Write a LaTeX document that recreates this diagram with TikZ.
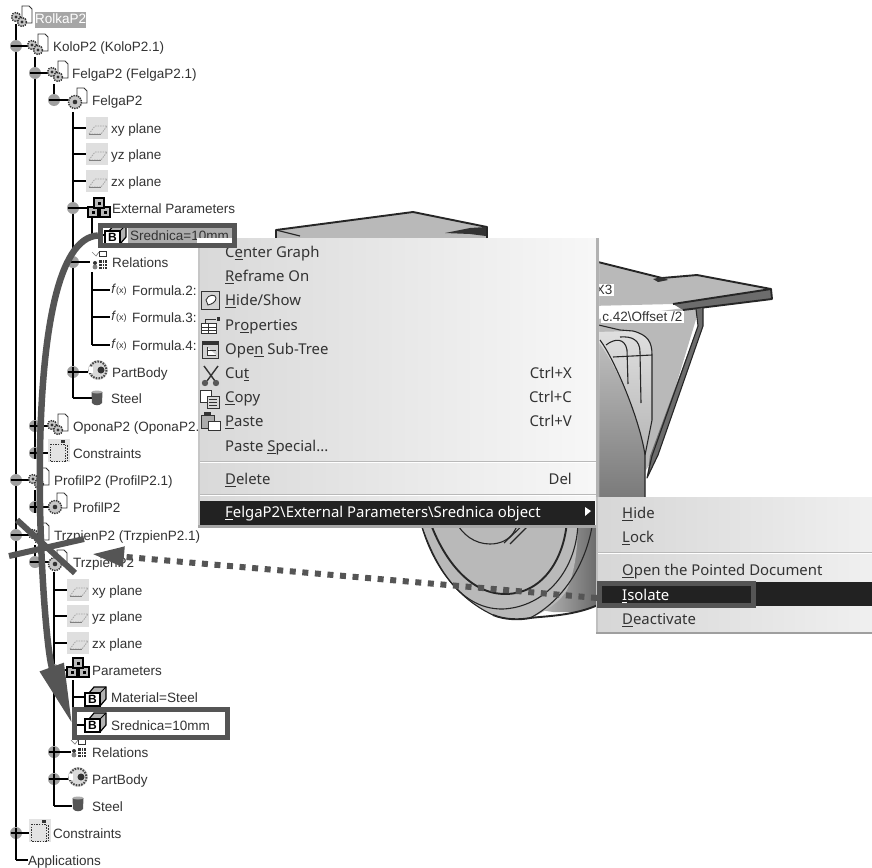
\documentclass[tikz,border=0pt]{standalone}
\usepackage{fontspec}
\setmainfont{Liberation Sans}
\newfontfamily\menufont{Noto Sans}
\usetikzlibrary{arrows.meta,shadings}
\definecolor{ink}{HTML}{333333}
\definecolor{annot}{HTML}{555555}
\definecolor{barcol}{HTML}{222222}
\definecolor{platecol}{HTML}{B9B9B9}
\newcommand{\ulc}[1]{\underline{#1}}
\newcommand{\TreeRow}[6]{%
  \coordinate (#1-t) at (#2,#4);
  \coordinate (#1-i) at (#3,#4);
  \draw[treeline] (#1-t) -- (#1-i);
  \node[lbl] (#1) at (#5,#4) {#6};}
\newcommand{\MI}[3]{\node[mitem] (#1) at (225,#2) {#3};}
\newcommand{\SI}[3]{\node[mitem] (#1) at (622,#2) {#3};}
\newcommand{\SK}[3]{\node[mkey] (#1) at (572,#2) {#3};}
\tikzset{
  treeline/.style={line width=1.8,draw=black},
  lbl/.style={anchor=west,inner sep=0,yshift=-1.8,text height=10,text depth=3,text=ink,font=\fontsize{13.5}{15}\selectfont},
  mitem/.style={anchor=west,inner sep=0,yshift=-2,text height=11,text depth=4,text=ink,font=\menufont\fontsize{14.9}{16}\selectfont},
  mkey/.style={mitem,anchor=east},
  wl/.style={line width=1.1,draw=black!85},
  wt/.style={line width=1.9,draw=black!85},
  pics/expm/.style={code={\fill[gray!75] (0,0) circle (6);\fill[black] (-5.5,-1.4) rectangle (5.5,1.4);}},
  pics/expp/.style={code={\fill[gray!75] (0,0) circle (6);\fill[black] (-5.5,-1.4) rectangle (5.5,1.4);\fill[black] (-1.4,-5.5) rectangle (1.4,5.5);}},
  pics/gearm/.style={code={\fill[gray!45] (0,0) circle (#1);\draw[line width=1.4,draw=ink,dash pattern=on 1.4 off 1] (0,0) circle (#1);\fill[ink] (0,0) circle (#1*0.35);}},
  pics/asmi/.style={code={\draw[line width=.9,draw=ink,fill=white] (0,-12) -- (7,-12) -- (10,-9) -- (10,5) -- (0,5) -- cycle;
     \pic at (-6,-1) {gearm=4.5};\pic at (0,4) {gearm=4.5};}},
  pics/parti/.style={code={\draw[line width=.9,draw=ink,fill=white] (0,-12) -- (7,-12) -- (10,-9) -- (10,3) -- (0,3) -- cycle;
     \pic at (-2,2) {gearm=6.5};}},
  pics/planei/.style={code={\fill[gray!25] (-11,-11) rectangle (11,11);
     \draw[line width=.8,draw=gray!70,dash pattern=on 1.5 off 1] (-8,6) -- (-2,-2) -- (10,-2) -- (4,6) -- cycle;\draw[line width=1,draw=gray] (-8,6) -- (4,6);}},
  pics/trii/.style={code={\foreach \a/\b in {-6/4,6/4,0/-5}{\draw[line width=1.2,draw=black,fill=gray!55] (\a-5,\b-5) rectangle (\a+5,\b+5);\fill[black] (\a-1.5,\b-1.5) rectangle (\a+1.5,\b+1.5);}}},
  pics/bcube/.style={code={\draw[line width=1.2,draw=black,fill=gray!60] (-6,-4) -- (-1,-10) -- (11,-10) -- (11,2) -- (5,9) -- (-6,9) -- cycle;
     \draw[line width=1.2,draw=black,fill=white] (-10,-4) rectangle (5,9);\draw[line width=1,draw=black] (5,-4) -- (11,-10);
     \node[inner sep=0,font=\bfseries\fontsize{12}{12}\selectfont] (bl) at (-2.5,2.5) {B};}},
  pics/reli/.style={code={\draw[line width=.7,draw=gray] (-7,-10) -- (-3,-6) -- (0,-10);\draw[line width=.8,draw=ink,fill=white] (0,-11) rectangle (7,-6);
     \fill[ink] (-4,1) circle (2);\fill[gray] (-4,5) circle (2.4);
     \fill[ink] (0,-2) rectangle (8,7);\draw[white,line width=.4] (0,1) -- (8,1) (0,4) -- (8,4) (3,-2) -- (3,7) (5.5,-2) -- (5.5,7);}},
  pics/bodyi/.style={code={\fill[gray!30] (0,0) circle (10);\draw[line width=2,draw=ink!90,dash pattern=on 1.6 off 1.2] (0,0) circle (8.5);
     \fill[ink] (3,0) circle (3.5);\fill[white] (-9,-3) rectangle (-5,3);}},
  pics/cani/.style={code={\fill[annot] (-5.5,-6) -- (5.5,-6) -- (5,5) .. controls (3,8) and (-3,8) .. (-5,5) -- cycle;\fill[gray!65] (0,-6) ellipse (5.5 and 1.5);}},
  pics/consi/.style={code={\fill[gray!22] (-11,-12) rectangle (11,11);\draw[line width=.8,draw=ink,dash pattern=on 1.4 off 1.2] (-9,-7) rectangle (6,10);\draw[line width=.9,draw=ink,dash pattern=on 2 off 1] (8.5,-6) -- (8.5,10);\fill[ink] (2,-11) rectangle (6,-8);}},
}
\begin{document}
\begin{tikzpicture}[x=1pt,y=-1pt]
\useasboundingbox (0,0) rectangle (872,867);
\fill[white] (0,0) rectangle (872,867);

%% ---------- 3D part, behind everything ----------
\fill[platecol] (276,230) -- (413,212) -- (487,227) -- (487,245) -- (276,245) -- cycle;
\draw[wt,line join=round] (276,238) -- (276,230) -- (413,212) -- (487,227) -- (487,240);
\draw[wl] (276,230) -- (300,236);
\fill[black!80] (445,233) -- (470,228) -- (486,227) -- (486,236) -- (470,234) -- cycle;
% bracket web
\fill[platecol] (590,320) -- (700,306) -- (655,455) -- (640,480) -- (590,480) -- cycle;
% plate
\fill[platecol] (590,260) -- (662,278) -- (697,275) -- (771,289) -- (673,304) -- (590,306) -- cycle;
\fill[gray!85!black] (673,304) -- (771,289) -- (772,299) -- (683,310) -- cycle;
\draw[wt,line join=round] (590,260) -- (662,278) -- (697,275) -- (771,289) -- (772,299) -- (683,310);
\draw[wt] (673,304) -- (771,289);
\fill[black!80] (653,279) -- (662,277) -- (668,280) -- (658,282) -- cycle;
% rail
\fill[gray!85!black] (696,309) -- (703,308) -- (703,326) -- (658,455) -- (647,478) -- (650,456) -- (698,326) -- cycle;
\draw[wl,line join=round] (696,309) -- (698,326) -- (652,456) -- (647,478) -- (658,455) -- (703,326) -- (703,308);
% hub and tread
\shade[top color=gray!25,bottom color=gray!70] (595,332) -- (633,331) .. controls (648,335) and (652,342) .. (652,355) -- (652,420) -- (645,455) -- (645,500) -- (595,500) -- cycle;
\shade[top color=gray!50,bottom color=gray!95!black] (595,338) .. controls (615,360) and (640,420) .. (645,455) -- (645,500) -- (595,500) -- cycle;
\draw[wl] (590,323) -- (620,330) -- (633,331) .. controls (648,335) and (652,342) .. (652,355) -- (652,420) -- (645,455) -- (645,500);
\draw[wl] (600,340) .. controls (615,360) and (640,420) .. (645,455);
\draw[wl] (613,357) -- (652,355);
\draw[wl] (606,345) .. controls (615,338) and (625,338) .. (627,350) -- (628,384);
\draw[wl] (620,337) .. controls (632,336) and (640,340) .. (640,352) -- (641,403);
% wheel bottom
\fill[platecol] (415,515) -- (422,527) .. controls (430,555) and (450,595) .. (493,615) .. controls (505,620) and (520,620) .. (530,618) .. controls (555,608) and (585,580) .. (600,515) -- cycle;
\shade[left color=platecol,right color=gray!80!black] (560,515) -- (540,610) -- (553,612) -- (577,612) -- (600,605) -- (600,515) -- cycle;
\fill[platecol] (415,515) -- (422,527) .. controls (430,555) and (450,595) .. (493,615) .. controls (505,620) and (520,620) .. (530,618) .. controls (545,612) and (560,602) .. (567,590) .. controls (575,570) and (578,550) .. (578,515) -- cycle;
\draw[wt] (493,615) .. controls (505,620) and (520,620) .. (530,618) .. controls (545,616) and (575,616) .. (600,604);
\draw[wl] (422,527) .. controls (430,555) and (450,595) .. (493,615);
\draw[wl] (422,527) .. controls (432,555) and (455,610) .. (503,609) .. controls (545,607) and (578,570) .. (578,520);
\draw[wt] (432,527) .. controls (445,560) and (470,594) .. (505,594) .. controls (545,594) and (565,555) .. (567,520);
\draw[wl] (455,520) .. controls (462,535) and (475,544) .. (490,544) .. controls (500,544) and (510,540) .. (515,530) -- (520,520);
\draw[wl] (504,543) -- (528,520);\draw[wl] (510,544) -- (532,522);
\draw[wl] (593,520) .. controls (588,560) and (565,600) .. (530,618);

%% ---------- tree lines and labels ----------
\coordinate (rolka-t) at (16,24);
\TreeRow{kolo}{16}{30}{46}{53}{KoloP2 (KoloP2.1)}
\TreeRow{felgaA}{35}{50}{73}{72}{FelgaP2 (FelgaP2.1)}
\TreeRow{felgaB}{54}{68}{100}{92}{FelgaP2}
\TreeRow{xyA}{73}{86}{128}{111}{xy plane}
\TreeRow{yzA}{73}{86}{154}{111}{yz plane}
\TreeRow{zxA}{73}{86}{181}{111}{zx plane}
\TreeRow{extp}{73}{90}{208}{112}{External Parameters}
\fill[gray!65] (128,228) rectangle (233,243);
\TreeRow{sredA}{92}{105}{235}{130}{Srednica=10mm}
\TreeRow{relA}{73}{90}{262}{112}{Relations}
\TreeRow{fA}{92}{110}{290}{132}{Formula.2:}
\TreeRow{fB}{92}{110}{317}{132}{Formula.3:}
\TreeRow{fC}{92}{110}{345}{132}{Formula.4:}
\TreeRow{pbA}{73}{88}{372}{112}{PartBody}
\TreeRow{stA}{73}{92}{398}{111}{Steel}
\TreeRow{opona}{35}{50}{426}{73}{OponaP2 (OponaP2.1)}
\TreeRow{consA}{35}{50}{453}{73}{Constraints}
\TreeRow{profA}{16}{30}{480}{54}{ProfilP2 (ProfilP2.1)}
\TreeRow{profB}{35}{50}{507}{73}{ProfilP2}
\TreeRow{trzA}{16}{30}{535}{54}{TrzpienP2 (TrzpienP2.1)}
\TreeRow{trzB}{35}{50}{562}{73}{TrzpienP2}
\TreeRow{xyB}{54}{67}{590}{92}{xy plane}
\TreeRow{yzB}{54}{67}{616}{92}{yz plane}
\TreeRow{zxB}{54}{67}{643}{92}{zx plane}
\TreeRow{parB}{54}{67}{670}{92}{Parameters}
\TreeRow{mat}{73}{86}{697}{111}{Material=Steel}
\TreeRow{sredB}{73}{86}{725}{111}{Srednica=10mm}
\TreeRow{relB}{54}{71}{752}{92}{Relations}
\TreeRow{pbB}{54}{71}{779}{92}{PartBody}
\TreeRow{stB}{54}{72}{806}{92}{Steel}
\TreeRow{consB}{16}{30}{833}{53}{Constraints}
\TreeRow{app}{16}{28}{860}{28}{Applications}
\node[lbl,fill=gray!70,text=white,inner xsep=0,yshift=0,text height=12,text depth=4] (rolka) at (35,18) {RolkaP2};

\coordinate (sA) at (35,57);
\coordinate (sB) at (54,84);
\coordinate (sC) at (73,112);
\coordinate (sD) at (92,218);
\coordinate (sE) at (92,272);
\coordinate (sF) at (35,490);
\coordinate (sG) at (35,545);
\coordinate (sH) at (54,572);
\coordinate (sI) at (73,680);
\draw[treeline] (rolka-t) -- (app-t);
\draw[treeline] (sA) -- (consA-t);
\draw[treeline] (sB) -- (felgaB-t);
\draw[treeline] (sC) -- (stA-t);
\draw[treeline] (sD) -- (sredA-t);
\draw[treeline] (sE) -- (fC-t);
\draw[treeline] (sF) -- (profB-t);
\draw[treeline] (sG) -- (trzB-t);
\draw[treeline] (sH) -- (stB-t);
\draw[treeline] (sI) -- (sredB-t);

%% expanders
\foreach \n in {kolo,felgaA,felgaB,extp,relA,profA,trzA,trzB,parB} \pic at (\n-t) {expm};
\foreach \n in {pbA,opona,consA,profB,relB,pbB,consB} \pic at (\n-t) {expp};

%% icons
\pic at (22,18) {asmi};
\pic at (38,46) {asmi};
\pic at (58,73) {asmi};
\pic at (77,100) {parti};
\pic at (97,128) {planei};\pic at (97,154) {planei};\pic at (97,181) {planei};
\pic at (99,208) {trii};
\pic at (115,235) {bcube};
\pic at (99,262) {reli};
\node[inner sep=0,text=ink,font=\fontsize{13}{13}\selectfont] (fxA) at (119,290) {\textit{f}\fontsize{9}{9}\selectfont(x)};
\node[inner sep=0,text=ink,font=\fontsize{13}{13}\selectfont] (fxB) at (119,317) {\textit{f}\fontsize{9}{9}\selectfont(x)};
\node[inner sep=0,text=ink,font=\fontsize{13}{13}\selectfont] (fxC) at (119,345) {\textit{f}\fontsize{9}{9}\selectfont(x)};
\pic at (98,370) {bodyi};
\pic at (97,398) {cani};
\pic at (58,426) {asmi};
\pic at (59,451) {consi};
\pic at (39,480) {asmi};
\pic at (57,505) {parti};
\pic at (39,535) {asmi};
\pic at (57,562) {parti};
\pic at (78,590) {planei};\pic at (78,616) {planei};\pic at (78,643) {planei};
\pic at (78,668) {trii};
\pic at (95,697) {bcube};
\pic at (95,723) {bcube};
\pic at (78,750) {reli};
\pic at (78,777) {bodyi};
\pic at (78,804) {cani};
\pic at (40,831) {consi};

%% labels on the 3D part (cropped by the menu)
\node[anchor=east,fill=white,inner sep=1.5,text=ink,font=\fontsize{13.5}{14}\selectfont] (lblxthree) at (614,290) {X3};
\node[anchor=east,fill=white,inner sep=1.5,text=ink,font=\fontsize{13.5}{14}\selectfont] (lbloffset) at (684,317) {c.42\textbackslash Offset /2};

%% ---------- context menu ----------
\shade[left color=gray!30,right color=gray!6] (198,238) rectangle (599,527);
\fill[gray!60] (596,238) rectangle (599,500);
\fill[gray!45] (198,238) rectangle (199.5,527);
\draw[gray!55,line width=1] (200,461) -- (596,461);
\draw[white,line width=.8] (200,462) -- (596,462);
\draw[gray!55,line width=1] (200,494) -- (596,494);
\draw[white,line width=.8] (200,495) -- (596,495);
\fill[barcol] (200,501) rectangle (595,525);
\fill[gray!70] (198,525) rectangle (599,527.5);
\fill[white] (197,238) rectangle (233,243);
\MI{mA}{252}{C\ulc{e}nter Graph}
\MI{mB}{276}{\ulc{R}eframe On}
\MI{mC}{300}{\ulc{H}ide/Show}
\MI{mD}{325}{Pr\ulc{o}perties}
\MI{mE}{349}{Ope\ulc{n} Sub-Tree}
\MI{mF}{373}{Cu\ulc{t}}
\MI{mG}{397}{\ulc{C}opy}
\MI{mH}{421}{\ulc{P}aste}
\MI{mI}{446}{Paste \ulc{S}pecial...}
\MI{mJ}{479}{\ulc{D}elete}
\node[mitem,text=white] (mK) at (225,512) {\ulc{F}elgaP2\textbackslash External Parameters\textbackslash Srednica object};
\SK{kF}{373}{Ctrl+X}
\SK{kG}{397}{Ctrl+C}
\SK{kH}{421}{Ctrl+V}
\SK{kJ}{479}{Del}
\fill[white] (585,507) -- (591,511) -- (585,516) -- cycle;

%% menu icons
\draw[line width=1,draw=ink,fill=gray!35] (201,291) rectangle (219,309);
\draw[line width=.9,draw=ink,fill=white] (206,300) .. controls (208,294) and (216,294) .. (216,298) .. controls (216,302) and (212,304) .. (208,305) -- cycle;
\draw[line width=1,draw=ink,fill=white] (201,323) rectangle (216,333);
\draw[line width=.8,draw=ink] (201,327) -- (216,327) (201,330) -- (216,330) (208,323) -- (208,333);
\draw[line width=1,draw=ink] (205,323) -- (205,319) -- (216,319);
\fill[ink] (217,317) rectangle (220,321);
\draw[line width=1,draw=ink,fill=gray!35] (202,341) rectangle (218,358);
\fill[ink] (202,341) rectangle (218,345);
\draw[line width=1,draw=ink,fill=white] (207,347) -- (207,355) -- (216,355) (207,350) -- (216,350);
\draw[line width=1.4,draw=ink] (204,366) -- (215,381) (218,366) -- (207,381);
\fill[gray!70!black] (205,383) circle (3.2);\fill[gray!70!black] (216,383) circle (3.2);
\draw[line width=.9,draw=ink,fill=white] (200,390) rectangle (211,402);
\draw[line width=.9,draw=ink,fill=gray!30] (207,396) rectangle (219,408);
\draw[line width=.5,draw=ink] (209,399) -- (217,399) (209,402) -- (217,402) (209,405) -- (217,405);
\draw[line width=.9,draw=ink,fill=gray!65] (201,415) rectangle (214,428);
\fill[ink] (204,412) rectangle (211,416);
\draw[line width=.9,draw=ink,fill=white] (208,421) rectangle (220,430);

%% ---------- submenu ----------
\shade[left color=gray!32,right color=gray!12] (596,497) rectangle (872,633);
\fill[gray!50] (596,497) rectangle (598,633);
\fill[gray!75] (596,631.5) rectangle (872,634);
\draw[gray!55,line width=1] (598,552) -- (872,552);
\draw[white,line width=.8] (598,553) -- (872,553);
\fill[barcol] (598,582) rectangle (872,606);
\node[draw=annot,line width=5,fill=barcol,inner sep=0,minimum width=154,minimum height=22] (isolate) at (676.5,594.5) {};
\SI{subA}{513}{\ulc{H}ide}
\SI{subB}{537}{\ulc{L}ock}
\SI{subC}{570}{\ulc{O}pen the Pointed Document}
\node[mitem,text=white] (subD) at (622,595) {\ulc{I}solate};
\SI{subE}{619}{\ulc{D}eactivate}

%% ---------- annotations ----------
\node[draw=annot,line width=5,inner sep=0,minimum width=134,minimum height=20] (srcbox) at (167.5,235.5) {};
\node[draw=annot,line width=5,inner sep=0,minimum width=153,minimum height=28] (dstbox) at (151,723.5) {};
\draw[annot,line width=6.5,-{Triangle[length=60,width=24]}] (srcbox.west) .. controls (15,240) and (42,640) .. (dstbox.west);
\coordinate (xa) at (17,520);
\coordinate (xb) at (75,573);
\coordinate (xc) at (9,556);
\coordinate (xd) at (84,539);
\draw[annot,line width=6] (xa) -- (xb);
\draw[annot,line width=6] (xc) -- (xd);
\coordinate (dotstart) at (597,598);
\coordinate (dottip) at (92,554);
\draw[annot,line width=6,dash pattern=on 6 off 6.6,-{Triangle[length=32,width=19]}] (dotstart) -- (dottip);
\end{tikzpicture}
\end{document}
